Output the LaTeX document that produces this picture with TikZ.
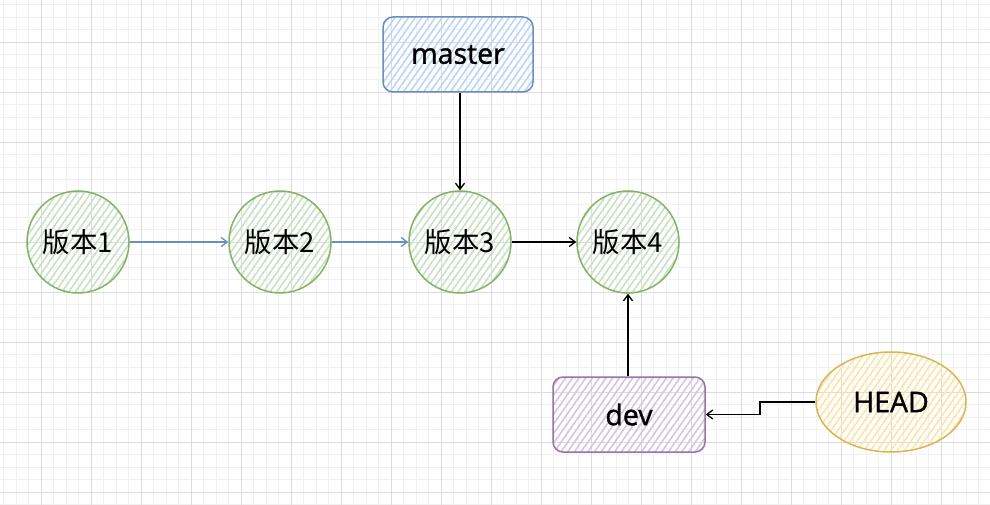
\documentclass[tikz,border=0pt]{standalone}
\usepackage{fontspec}
\setmainfont{Open Sans}
\newfontfamily\lab[FakeBold=1.2]{Open Sans}
\newfontfamily\cjk{Noto Sans CJK SC}
\usetikzlibrary{arrows.meta,patterns.meta,shapes.geometric}
\definecolor{gminor}{HTML}{F1F1F1}
\definecolor{gmajor}{HTML}{DCDCDC}
\definecolor{gstroke}{HTML}{82B366}
\definecolor{gfill}{HTML}{C9E2C4}
\definecolor{bstroke}{HTML}{6C8EBF}
\definecolor{bfill}{HTML}{BDD6F5}
\definecolor{pstroke}{HTML}{9673A6}
\definecolor{pfill}{HTML}{D6C6DF}
\definecolor{ystroke}{HTML}{D6B656}
\definecolor{yfill}{HTML}{FBE6A8}
\tikzset{
  hatch/.style={pattern={Lines[angle=55,distance=5.5pt,line width=1.6pt]}, pattern color=#1},
  ver/.style={circle, draw=gstroke, line width=1.5pt, minimum size=102pt, inner sep=0pt,
    hatch=gfill, font=\cjk\fontsize{27.5}{32}\selectfont},
  box/.style={rounded corners=10pt, line width=1.5pt, minimum width=150pt, minimum height=75pt,
    inner sep=0pt, font=\lab\fontsize{28.5}{32}\selectfont},
  arr/.style={line width=1.3pt, -{Straight Barb[length=6pt,width=9pt,line width=1.3pt]}},
}
\begin{document}
\begin{tikzpicture}[x=1pt,y=-1pt]
\useasboundingbox (0,0) rectangle (990,505);
\fill[white] (0,0) rectangle (990,505);
% grid
\foreach \i in {0,...,79} {
  \pgfmathsetmacro{\xx}{3.5+12.5*\i}
  \draw[gminor, line width=0.8pt] (\xx,0) -- (\xx,505);
}
\foreach \i in {0,...,40} {
  \pgfmathsetmacro{\yy}{4.5+12.5*\i}
  \draw[gminor, line width=0.8pt] (0,\yy) -- (990,\yy);
}
\foreach \i in {0,...,19} {
  \pgfmathsetmacro{\xx}{41+50*\i}
  \draw[gmajor, line width=0.8pt] (\xx,0) -- (\xx,505);
}
\foreach \i in {0,...,9} {
  \pgfmathsetmacro{\yy}{42+50*\i}
  \draw[gmajor, line width=0.8pt] (0,\yy) -- (990,\yy);
}
% nodes
\node[box, draw=bstroke, hatch=bfill] (master) at (458,54.5) {master};
\node[ver] (v1) at (78,242) {版本1};
\node[ver] (v2) at (280,242) {版本2};
\node[ver] (v3) at (460,242) {版本3};
\node[ver] (v4) at (628,242) {版本4};
\node[box, draw=pstroke, hatch=pfill, minimum width=152pt] (dev) at (629,414.5) {dev};
\node[ellipse, draw=ystroke, line width=1.5pt, hatch=yfill, minimum width=150pt, minimum height=100pt,
  inner sep=0pt, font=\lab\fontsize{28.5}{32}\selectfont] (head) at (891,402) {HEAD};
% connectors
\draw[arr, draw=bstroke] (v1) -- (v2);
\draw[arr, draw=bstroke] (v2) -- (v3);
\draw[arr, draw=black] (v3) -- (v4);
\draw[arr] (master.south -| v3) -- (v3);
\draw[arr] (dev.north -| v4) -- (v4);
\coordinate (bend) at (760,0);
\draw[arr] (head.west) -- (head.west -| bend) |- (dev.east);
\end{tikzpicture}
\end{document}
